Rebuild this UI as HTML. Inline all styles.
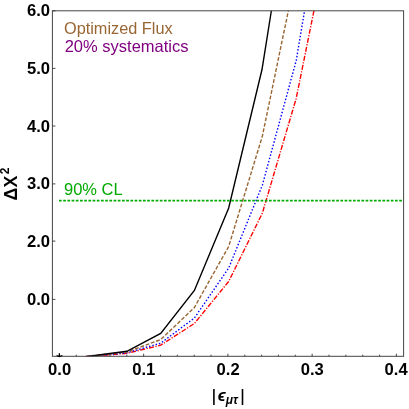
<!DOCTYPE html>
<html>
<head>
<meta charset="utf-8">
<style>
html,body{margin:0;padding:0;background:#fff;}
body{width:409px;height:409px;overflow:hidden;}
svg{display:block;transform:translateZ(0);will-change:transform;}
text{font-family:"Liberation Sans",sans-serif;}
.tk{font-weight:bold;font-size:16.6px;fill:#000;}
</style>
</head>
<body>
<svg width="409" height="409" viewBox="0 0 409 409">
<rect x="0" y="0" width="409" height="409" fill="#fff"/>
<defs><clipPath id="c"><rect x="52.4" y="10.8" width="351.2" height="345.5"/></clipPath></defs>
<!-- curves -->
<g clip-path="url(#c)" fill="none" stroke-width="1.4" stroke-linejoin="miter">
<polyline stroke="#ff0000" stroke-dasharray="5 1.5 1.2 1.5" points="85.5,356.7 126.9,353.3 160.7,345.2 194.4,323.5 228.7,281.4 262.4,213 296.2,98.4 314,10.5 320,-19"/>
<polyline stroke="#0000ff" stroke-dasharray="1.5 1.9" points="85.5,356.7 126.9,352.8 160.7,343.2 194.4,318 228.7,268 262.4,185 296.2,60.6 304.6,10.5 309,-16"/>
<polyline stroke="#996633" stroke-dasharray="3.8 1.8" points="85.5,356.7 126.9,352 160.7,339.6 194.4,307.5 228.7,246.5 262.4,136 288.4,10.5 294,-16"/>
<polyline stroke="#000" points="85.5,356.7 126.9,351.3 160.7,333.4 194.4,290.4 228.7,208 262,69.5 271.4,10.5 275,-12"/>
<line x1="59" y1="200.6" x2="403.6" y2="200.6" stroke="#00aa00" stroke-width="1.8" stroke-dasharray="2.7 1.5"/>
</g>
<!-- frame -->
<rect x="52.4" y="10.8" width="351.2" height="345.5" fill="none" stroke="#444" stroke-width="1"/>
<!-- ticks -->
<g stroke="#333" stroke-width="0.9">
<path d="M52.4 10.8h3M52.4 68.4h3M52.4 126h3M52.4 183.9h3M52.4 241.1h3M52.4 299.4h3"/>
<path d="M59.4 356.3v-2.6M143.65 356.3v-2.6M227.9 356.3v-2.6M312.15 356.3v-2.6M396.4 356.3v-2.6"/>
<path d="M76.25 356.3v-1.6M93.1 356.3v-1.6M109.95 356.3v-1.6M126.8 356.3v-1.6M160.5 356.3v-1.6M177.35 356.3v-1.6M194.2 356.3v-1.6M211.05 356.3v-1.6M244.75 356.3v-1.6M261.6 356.3v-1.6M278.45 356.3v-1.6M295.3 356.3v-1.6M329 356.3v-1.6M345.85 356.3v-1.6M362.7 356.3v-1.6M379.55 356.3v-1.6"/>
</g>
<path d="M56.6 355.5L59.4 356.5L62.4 355.5M59.4 353.2V357" stroke="#000" stroke-width="1.2" fill="none"/>
<!-- y tick labels -->
<g class="tk" text-anchor="end">
<text x="50" y="16.3">6.0</text>
<text x="50" y="73.9">5.0</text>
<text x="50" y="131.5">4.0</text>
<text x="50" y="189.3">3.0</text>
<text x="50" y="246.6">2.0</text>
<text x="50" y="304.9">0.0</text>
</g>
<!-- x tick labels -->
<g class="tk" text-anchor="middle">
<text x="59.6" y="374.6">0.0</text>
<text x="143.8" y="374.6">0.1</text>
<text x="228.1" y="374.6">0.2</text>
<text x="312.3" y="374.6">0.3</text>
<text x="396.1" y="374.6">0.4</text>
</g>
<!-- legend text -->
<text x="64" y="34" font-size="16.3" fill="#996633">Optimized Flux</text>
<text x="64.7" y="51.5" font-size="16.5" fill="#800080">20% systematics</text>
<text x="64" y="194.9" font-size="16.5" fill="#00aa00">90% CL</text>
<!-- axis labels -->
<g font-weight="bold" fill="#000">
<text transform="translate(16.7,200.4) rotate(-90)" font-size="17.8">Δ</text>
<text transform="translate(16.7,187.4) rotate(-90)" font-size="17.8">X</text>
<text transform="translate(8.8,174.2) rotate(-90)" font-size="12">2</text>
</g>
<rect x="213.1" y="389" width="1.6" height="16" fill="#000"/>
<rect x="241.7" y="389" width="1.6" height="16" fill="#000"/>
<g font-weight="bold" font-style="italic" fill="#000">
<text x="217.8" y="400.9" font-size="16.5">ϵ</text>
<text x="225.8" y="404.2" font-size="12">μτ</text>
</g>
</svg>
</body>
</html>
